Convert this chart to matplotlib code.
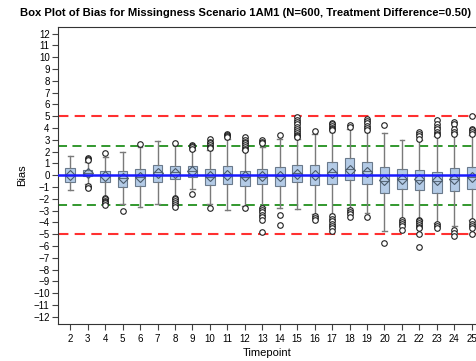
import matplotlib
matplotlib.use("Agg")
import matplotlib.pyplot as plt

plt.rcParams["font.family"] = ["Liberation Sans", "DejaVu Sans"]

timepoints = list(range(2, 26))
# box stats: whisker low, q1, median, q3, whisker high, mean
whislo = [-1.27, -0.76, -1.9, -2.46, -2.7, -2.46, -1.9, -1.18, -2.46, -2.98, -2.6, -2.7,
          -2.8, -2.89, -3.3, -3.3, -2.75, -3.18, -4.69, -3.66, -3.75, -4.03, -4.3, -3.75]
q1 = [-0.61, -0.05, -0.61, -0.98, -0.9, -0.61, -0.33, -0.13, -0.84, -0.75, -0.9, -0.75,
      -0.9, -0.61, -0.81, -0.7, -0.41, -0.7, -1.52, -1.18, -1.27, -1.47, -1.32, -1.18]
med = [0.0, 0.2, 0.0, -0.27, -0.18, 0.24, 0.24, 0.38, -0.13, 0.1, -0.13, -0.13,
       -0.1, 0.16, -0.04, 0.24, 0.53, 0.33, -0.47, -0.36, -0.41, -0.47, -0.33, -0.18]
q3 = [0.61, 0.47, 0.38, 0.36, 0.53, 0.9, 0.78, 0.81, 0.53, 0.78, 0.38, 0.53,
      0.72, 0.87, 0.87, 1.1, 1.44, 1.1, 0.73, 0.53, 0.44, 0.3, 0.58, 0.67]
whishi = [1.67, 1.15, 1.52, 1.95, 2.38, 2.86, 2.52, 2.15, 2.1, 3.09, 2.1, 2.38,
          3.1, 3.09, 3.52, 3.66, 3.95, 3.66, 3.6, 3.0, 3.0, 3.3, 3.5, 3.43]
means = [0.0, 0.2, -0.1, -0.25, -0.15, 0.2, 0.2, 0.35, -0.1, 0.05, -0.1, -0.1,
         -0.1, 0.1, 0.05, 0.2, 0.45, 0.3, -0.4, -0.3, -0.35, -0.4, -0.3, -0.15]
fliers = [
    [],
    [1.44, 1.35, 1.3, -1.0, -0.95, -1.05],
    [1.87, -1.95, -2.05, -2.15, -2.25, -2.35, -2.5],
    [-3.03],
    [2.66],
    [],
    [2.75, -1.95, -2.05, -2.2, -2.35, -2.5, -2.7],
    [2.58, 2.48, 2.38, 2.24, -1.6],
    [3.03, 2.85, 2.7, 2.55, 2.4, 2.32, -2.75],
    [3.5, 3.4, 3.3, 3.2],
    [3.2, 3.0, 2.85, 2.7, 2.55, 2.4, 2.25, 2.15, -2.8],
    [3.0, 2.85, 2.7, -2.75, -2.95, -3.15, -3.35, -3.55, -3.75, -4.8],
    [3.45, -3.4, -4.2],
    [4.9, 4.7, 4.5, 4.3, 4.1, 3.9, 3.75, 3.6, 3.45, 3.3, 3.2],
    [3.75, -3.46, -3.6, -3.8],
    [4.46, 4.3, 4.15, 4.0, 3.9, 3.8, -3.46, -3.7, -3.9, -4.1, -4.3, -4.5, -4.7],
    [4.28, 4.1, -2.95, -3.1, -3.3, -3.55],
    [4.8, 4.6, 4.4, 4.2, 4.0, 3.8, -3.55],
    [4.23, -5.74],
    [-3.8, -3.95, -4.1, -4.3, -4.6],
    [3.7, 3.5, 3.3, 3.1, -3.75, -3.9, -4.05, -4.2, -4.35, -4.46, -5.0, -6.08],
    [4.66, 4.35, 4.1, 3.9, 3.7, 3.5, 3.38, -4.17, -4.3, -4.46],
    [4.5, 4.3, 3.9, 3.7, 3.5, -4.6, -4.9, -5.17],
    [5.03, 3.95, 3.8, 3.65, 3.5, -3.9, -4.1, -4.3, -4.5, -5.0],
]

stats = []
for i, t in enumerate(timepoints):
    stats.append(dict(label=str(t), whislo=whislo[i], q1=q1[i], med=med[i], q3=q3[i],
                      whishi=whishi[i], mean=means[i], fliers=fliers[i]))

fig = plt.figure(figsize=(4.77, 3.61), dpi=100)
ax = fig.add_axes([0.1216, 0.1025, 0.8784, 0.8225])

ax.axhline(5, color="#ff3030", lw=1.5, ls=(0, (5, 3)), zorder=1)
ax.axhline(-5, color="#ff3030", lw=1.5, ls=(0, (5, 3)), zorder=1)
ax.axhline(2.5, color="#22901e", lw=1.3, ls=(0, (5, 3)), zorder=1)
ax.axhline(-2.5, color="#22901e", lw=1.3, ls=(0, (5, 3)), zorder=1)

ax.bxp(stats, positions=timepoints, widths=0.55, patch_artist=True, showmeans=True,
       boxprops=dict(facecolor="#b4cbe6", edgecolor="#6a7a8c", lw=0.8),
       whiskerprops=dict(color="#7a7a7a", lw=1.0),
       capprops=dict(color="#7a7a7a", lw=1.0),
       medianprops=dict(color="#5a6a7a", lw=0.8),
       meanprops=dict(marker="D", markerfacecolor="none", markeredgecolor="#4a5a6a",
                      markersize=5, markeredgewidth=0.8),
       flierprops=dict(marker="o", markerfacecolor="white", markeredgecolor="#202020",
                       markersize=4, markeredgewidth=0.8),
       zorder=2)

ax.axhline(0, color="#1a1aff", lw=1.8, zorder=3)

ax.set_xlim(1.3, 25.3)
ax.set_ylim(-12.6, 12.55)
ax.set_yticks(range(-12, 13))
ax.set_xticks(timepoints)
ax.set_xticklabels([str(t) for t in timepoints])
ax.tick_params(labelsize=7, length=4, width=0.8, color="#444444", pad=2)
ax.tick_params(axis="x", pad=3)
ax.spines["right"].set_visible(False)
for s in ["left", "bottom", "top"]:
    ax.spines[s].set_color("#333333")
    ax.spines[s].set_linewidth(0.8)

ax.set_xlabel("Timepoint", fontsize=8, labelpad=3)
ax.set_ylabel("Bias", fontsize=8, labelpad=4)
fig.text(0.514, 0.965, "Box Plot of Bias for Missingness Scenario 1AM1 (N=600, Treatment Difference=0.50)",
         ha="center", va="center", fontsize=8.15, fontweight="bold")

fig.savefig("out.png", dpi=100)
